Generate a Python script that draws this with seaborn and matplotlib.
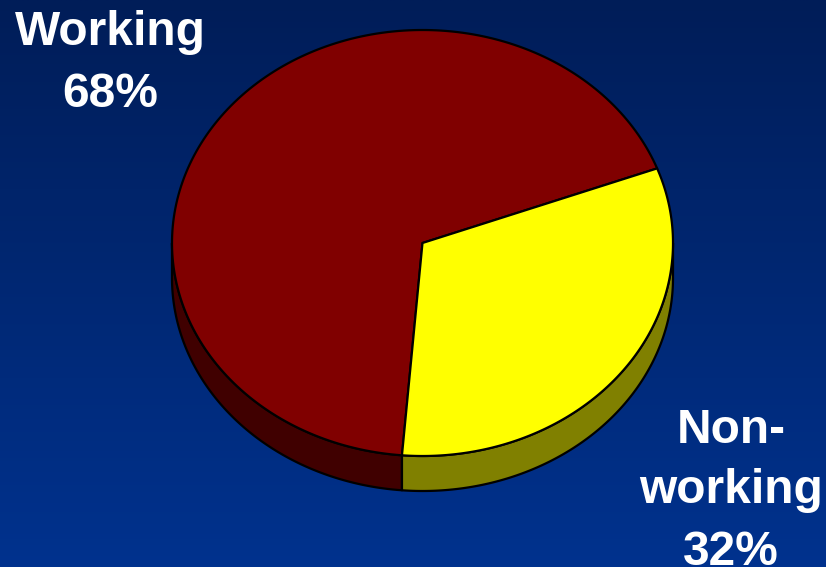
import numpy as np
import matplotlib
matplotlib.use("Agg")
import matplotlib.pyplot as plt
from matplotlib.patches import Polygon
import seaborn as sns

# Survey shares
categories = ["Working", "Non-working"]
label_lines = [["Working"], ["Non-", "working"]]
shares = [68, 32]

top_colors = ["#800000", "#ffff00"]
side_colors = ["#400000", "#808000"]

sns.set_theme(style="white")
plt.rcParams["font.family"] = ["Liberation Sans", "DejaVu Sans"]

W, H = 826, 567
fig = plt.figure(figsize=(W / 100, H / 100), dpi=100)
ax = fig.add_axes([0, 0, 1, 1])
ax.set_xlim(0, W)
ax.set_ylim(H, 0)
ax.axis("off")

# vertical navy-to-blue backdrop
grad = np.linspace(0, 1, 256)[:, None]
c_top = np.array([0x00, 0x1d, 0x58]) / 255
c_bot = np.array([0x00, 0x32, 0x8e]) / 255
img = c_top[None, None, :] * (1 - grad[..., None]) + c_bot[None, None, :] * grad[..., None]
img = np.repeat(img, 2, axis=1)
ax.imshow(img, extent=[0, W, H, 0], aspect="auto", zorder=0)

# tilted pie geometry
cx, cy = 422.5, 243
rx, ry = 250.5, 213
depth = 35
start = 20.5


def arc(t0, t1, dy=0.0, n=200):
    t = np.radians(np.linspace(t0, t1, n))
    return np.column_stack([cx + rx * np.cos(t), cy - ry * np.sin(t) + dy])


bounds = start + 360 * np.concatenate([[0], np.cumsum(shares)]) / sum(shares)
edge = dict(edgecolor="black", linewidth=1.6, joinstyle="round")

# front rim, drawn only where it faces the viewer
for i in range(len(shares)):
    a0, a1 = bounds[i], bounds[i + 1]
    for k in (-1, 0, 1):
        lo = max(a0, 180 + 360 * k)
        hi = min(a1, 360 + 360 * k)
        if hi > lo:
            upper = arc(lo, hi)
            lower = arc(hi, lo, dy=depth)
            ax.add_patch(Polygon(np.vstack([upper, lower]), closed=True,
                                 facecolor=side_colors[i], zorder=2, **edge))

# top faces
for i in range(len(shares)):
    pts = np.vstack([[cx, cy], arc(bounds[i], bounds[i + 1])])
    ax.add_patch(Polygon(pts, closed=True, facecolor=top_colors[i], zorder=3, **edge))

# labels
label_pos = [(110, [45, 107]), (731, [443, 503, 565])]
for lines, share, (x, baselines) in zip(label_lines, shares, label_pos):
    for txt, yb in zip(lines + [f"{share}%"], baselines):
        ax.text(x, yb, txt, color="white", fontsize=34.5, fontweight="bold",
                ha="center", va="baseline", zorder=5)

fig.savefig("out.png", dpi=100)
